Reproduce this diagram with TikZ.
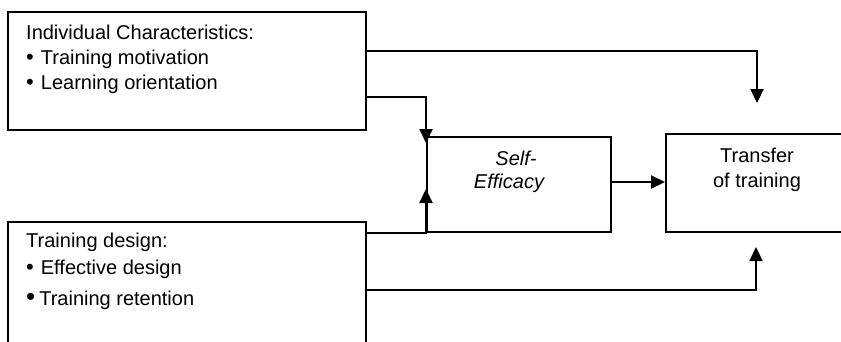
\documentclass[tikz,border=0pt]{standalone}
\usepackage{fontspec}
\setmainfont{Liberation Sans}
\usetikzlibrary{arrows.meta,calc}
\newcommand{\bul}{{\fontsize{22}{24}\selectfont\textbullet}\hspace{7pt}}
\begin{document}
\begin{tikzpicture}[x=1pt,y=-1pt,
  box/.style={draw,line width=2pt,inner sep=0pt,rectangle},
  txt/.style={inner sep=0pt,anchor=base west,font=\fontsize{20}{24}\selectfont},
  ctxt/.style={inner sep=0pt,anchor=base,font=\fontsize{20}{24}\selectfont},
  arr/.style={line width=2.2pt,-{Triangle[length=14pt,width=13pt]}}]
\useasboundingbox (0,0) rectangle (841,341);
\begin{scope}
\clip (0,0) rectangle (841,341);
% boxes
\node[box,minimum width=358pt,minimum height=118pt] (ind) at (187,71) {};
\node[box,minimum width=358pt,minimum height=138pt] (des) at (187,291) {};
\node[box,minimum width=184pt,minimum height=95pt] (se) at (519,184.5) {};
\node[box,minimum width=184pt,minimum height=98pt] (tr) at (758,183) {};
% texts
\node[txt] (t1) at (26,39) {Individual Characteristics:};
\node[txt] (t2) at (26,64) {\bul Training motivation};
\node[txt] (t3) at (26,89) {\bul Learning orientation};
\node[txt] (t4) at (26,247) {Training design:};
\node[txt] (t5) at (26,274) {\bul Effective design};
\node[txt] (t6) at (26,305) {{\fontsize{26}{24}\selectfont\textbullet}\hspace{4pt}Training retention};
\node[ctxt,font=\fontsize{20}{24}\selectfont\itshape] (s1) at (516,165) {Self-};
\node[ctxt,font=\fontsize{20}{24}\selectfont\itshape] (s2) at (509,188) {Efficacy};
\node[ctxt] (r1) at (757,162) {Transfer};
\node[ctxt] (r2) at (757,187) {of training};
% coordinates
\coordinate (a1) at (ind.east |- 0,51);
\coordinate (a2) at (757,51);
\coordinate (a3) at (757,103);
\coordinate (b1) at (ind.east |- 0,97);
\coordinate (b2) at (se.west |- 0,97);
\coordinate (b3) at (se.west |- 0,143);
\coordinate (c1) at (des.east |- se.south);
\coordinate (c2) at (se.south west);
\coordinate (c3) at (se.west |- 0,189);
\coordinate (d1) at (des.east |- 0,290);
\coordinate (d2) at (756,290);
\coordinate (d3) at (756,247);
% connectors
\draw[arr] (a1) -- (a2) -- (a3);
\draw[arr] (b1) -- (b2) -- (b3);
\draw[arr] (c1) -- (c2) -- (c3);
\draw[arr] (se.east |- 0,182) -- (tr.west |- 0,182);
\draw[arr] (d1) -- (d2) -- (d3);
\end{scope}
\end{tikzpicture}
\end{document}
